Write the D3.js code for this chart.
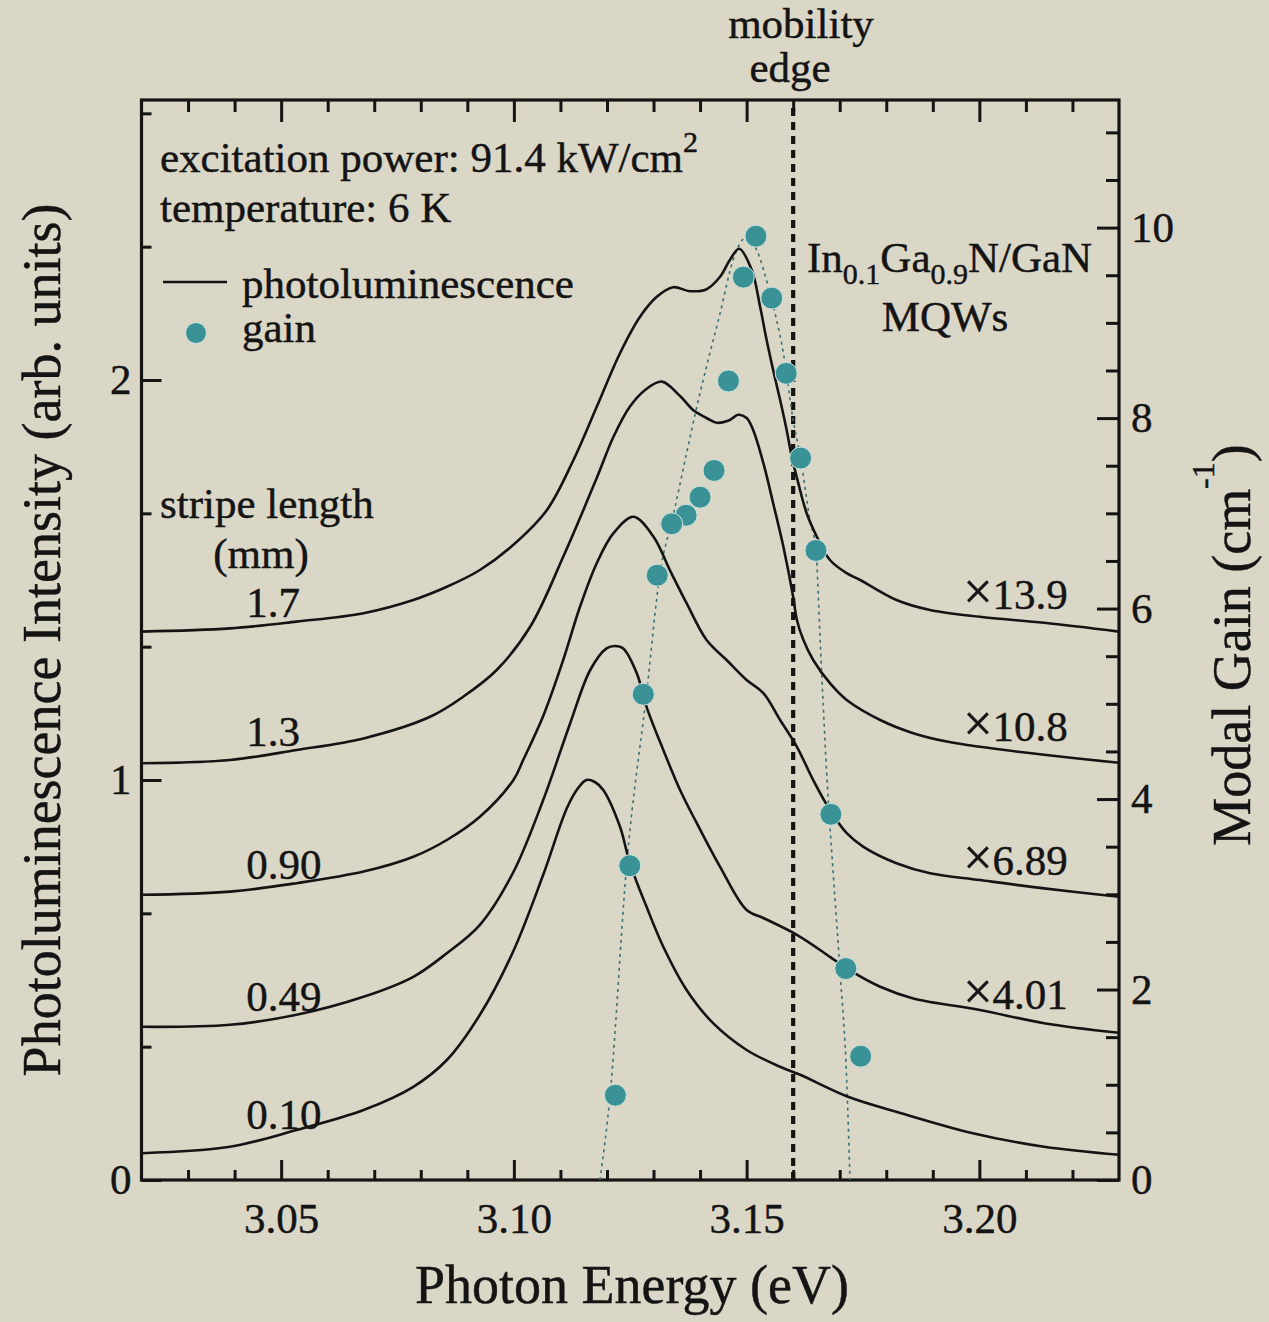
<!DOCTYPE html>
<html>
<head>
<meta charset="utf-8">
<script src="https://cdn.jsdelivr.net/npm/d3@7"></script>
<style>
  html, body { margin: 0; padding: 0; background: #dbd7c7; }
  svg { display: block; }
  text { font-family: "Liberation Serif", "Times New Roman", serif; fill: #141414; stroke: #141414; stroke-width: 0.45px; }
</style>
</head>
<body>
<svg id="chart" width="1269" height="1322"></svg>
<script>
// ---- Stacked photoluminescence spectra (left axis units, vertical offset included) ----
const energy17 = [3.0200,3.0390,3.0533,3.0677,3.0784,3.0856,3.0927,3.0999,3.1071,3.1128,3.1178,3.1228,3.1271,3.1307,3.1342,3.1378,3.1414,3.1443,3.1464,3.1484,3.1511,3.1529,3.1543,3.1557,3.1572,3.1586,3.1597,3.1611,3.1629,3.1651,3.1679,3.1715,3.1744,3.1822,3.1894,3.2001,3.2139,3.2300];
const pl17     = [1.371,1.379,1.396,1.417,1.450,1.483,1.525,1.588,1.675,1.800,1.933,2.067,2.158,2.208,2.232,2.222,2.227,2.258,2.300,2.328,2.275,2.183,2.100,2.025,1.950,1.875,1.808,1.742,1.667,1.608,1.550,1.517,1.500,1.450,1.425,1.408,1.393,1.371];

const energy13 = [3.0200,3.0390,3.0533,3.0677,3.0820,3.0891,3.0963,3.1035,3.1106,3.1178,3.1214,3.1249,3.1282,3.1318,3.1357,3.1385,3.1414,3.1436,3.1464,3.1482,3.1500,3.1514,3.1536,3.1557,3.1579,3.1600,3.1608,3.1622,3.1643,3.1679,3.1715,3.1787,3.1858,3.1930,3.2001,3.2139,3.2300];
const pl13     = [1.042,1.050,1.075,1.104,1.158,1.208,1.275,1.383,1.558,1.755,1.858,1.933,1.975,1.996,1.960,1.925,1.905,1.893,1.900,1.913,1.905,1.875,1.792,1.692,1.583,1.458,1.400,1.350,1.300,1.242,1.200,1.150,1.117,1.096,1.083,1.063,1.043];

const energy090 = [3.0200,3.0390,3.0533,3.0677,3.0784,3.0856,3.0927,3.0999,3.1020,3.1063,3.1106,3.1142,3.1178,3.1214,3.1257,3.1300,3.1335,3.1371,3.1414,3.1457,3.1500,3.1536,3.1572,3.1608,3.1643,3.1679,3.1715,3.1751,3.1822,3.1894,3.2001,3.2139,3.2300];
const pl090     = [0.713,0.721,0.742,0.771,0.808,0.850,0.908,1.000,1.050,1.160,1.300,1.433,1.542,1.617,1.658,1.608,1.525,1.442,1.350,1.300,1.250,1.217,1.150,1.083,1.000,0.925,0.867,0.833,0.792,0.767,0.750,0.729,0.708];

const energy049 = [3.0200,3.0390,3.0533,3.0677,3.0784,3.0856,3.0927,3.0999,3.1063,3.1121,3.1164,3.1199,3.1217,3.1235,3.1264,3.1285,3.1321,3.1357,3.1393,3.1443,3.1500,3.1536,3.1608,3.1679,3.1715,3.1787,3.1858,3.2001,3.2139,3.2300];
const pl049     = [0.383,0.388,0.413,0.458,0.508,0.567,0.638,0.770,0.950,1.142,1.275,1.329,1.335,1.329,1.267,1.183,1.075,0.975,0.892,0.783,0.675,0.655,0.613,0.558,0.529,0.483,0.454,0.425,0.392,0.368];

const energy010 = [3.0200,3.0390,3.0533,3.0677,3.0784,3.0856,3.0927,3.0998,3.1063,3.1114,3.1138,3.1156,3.1174,3.1192,3.1228,3.1249,3.1285,3.1321,3.1371,3.1428,3.1500,3.1572,3.1615,3.1718,3.1832,3.1986,3.2139,3.2300];
const pl010     = [0.067,0.083,0.125,0.175,0.233,0.300,0.413,0.570,0.763,0.930,0.980,1.000,0.995,0.975,0.883,0.793,0.683,0.583,0.475,0.392,0.325,0.283,0.263,0.208,0.167,0.117,0.083,0.063];

const stripeLengths = ["1.7", "1.3", "0.90", "0.49", "0.10"];
const scaleFactors  = ["13.9", "10.8", "6.89", "4.01"];

// ---- Modal gain (right axis, cm^-1) ----
const gainEnergy = [3.1520,3.1493,3.1554,3.1461,3.1585,3.1430,3.1616,3.1400,3.1370,3.1339,3.1649,3.1308,3.1278,3.1681,3.1249,3.1713,3.1745,3.1218];
const gainValue  = [9.91,9.48,9.26,8.39,8.47,7.45,7.58,7.17,6.98,6.89,6.61,6.35,5.10,3.84,3.30,2.22,1.30,0.89];

// guide-for-the-eye through the gain points
const guideEnergy = [3.1185,3.1207,3.1242,3.1285,3.1314,3.1342,3.1371,3.1393,3.1421,3.1443,3.1471,3.1500,3.1522,3.1550,3.1579,3.1600,3.1616,3.1636,3.1649,3.1658,3.1672,3.1686,3.1701,3.1715,3.1722];
const guideGain   = [0,0.91,3.29,5.11,6.37,6.97,7.63,8.12,8.68,9.10,9.66,9.90,9.76,9.31,8.68,7.98,7.58,6.93,6.61,5.67,4.27,3.22,2.17,1.05,0];

const mobilityEdge = 3.160;

// ---- Axis ticks ----
const energyTicks = [3.05, 3.10, 3.15, 3.20];
const energyMinor = d3.range(303, 323).map(d => d / 100).filter(d => !energyTicks.some(t => Math.abs(t - d) < 1e-6));
const plTicks = [0, 1, 2];
const plMinor = [1, 2, 4, 5, 7, 8].map(d => d / 3);
const gainTicks = [0, 2, 4, 6, 8, 10];
const gainMinor = d3.range(1, 23).map(d => d / 2).filter(d => d % 2 !== 0);

// ---- Scales ----
const pLeft = 141.5, pRight = 1119, pTop = 100, pBottom = 1180;
const x = d3.scaleLinear().domain([3.02, 3.23]).range([pLeft, pRight]);
const yPL = d3.scaleLinear().domain([0, 2.7]).range([pBottom, pTop]);
const yGain = d3.scaleLinear().domain([0, 11.34]).range([pBottom, pTop]);

const svg = d3.select("#chart");
const ink = "#141414";
const teal = "#3a9296";

svg.append("rect").attr("width", 1269).attr("height", 1322).attr("fill", "#dbd7c7");

const styleAxis = (g, size) => {
  g.select(".domain").remove();
  g.selectAll(".tick line").attr("stroke", ink).attr("stroke-width", 3);
  g.selectAll(".tick text")
    .attr("fill", ink)
    .style("font-family", "'Liberation Serif','Times New Roman',serif")
    .style("font-size", size + "px");
  g.attr("font-family", null).attr("font-size", null);
};

// bottom axis
svg.append("g").attr("transform", `translate(0,${pBottom})`)
  .call(d3.axisBottom(x).tickValues(energyTicks).tickFormat(d3.format(".2f")).tickSize(-20).tickPadding(22))
  .call(g => styleAxis(g, 43));
svg.append("g").attr("transform", `translate(0,${pBottom})`)
  .call(d3.axisBottom(x).tickValues(energyMinor).tickFormat("").tickSize(-10))
  .call(g => styleAxis(g, 43));
// top axis
svg.append("g").attr("transform", `translate(0,${pTop})`)
  .call(d3.axisTop(x).tickValues(energyTicks).tickFormat("").tickSize(-22))
  .call(g => styleAxis(g, 43));
svg.append("g").attr("transform", `translate(0,${pTop})`)
  .call(d3.axisTop(x).tickValues(energyMinor).tickFormat("").tickSize(-12))
  .call(g => styleAxis(g, 43));
// left axis
svg.append("g").attr("transform", `translate(${pLeft},0)`)
  .call(d3.axisLeft(yPL).tickValues(plTicks).tickFormat(d3.format("d")).tickSize(-20).tickPadding(10))
  .call(g => styleAxis(g, 43));
svg.append("g").attr("transform", `translate(${pLeft},0)`)
  .call(d3.axisLeft(yPL).tickValues(plMinor).tickFormat("").tickSize(-10))
  .call(g => styleAxis(g, 43));
// right axis
svg.append("g").attr("transform", `translate(${pRight},0)`)
  .call(d3.axisRight(yGain).tickValues(gainTicks).tickFormat(d3.format("d")).tickSize(-22).tickPadding(12))
  .call(g => styleAxis(g, 43));
svg.append("g").attr("transform", `translate(${pRight},0)`)
  .call(d3.axisRight(yGain).tickValues(gainMinor).tickFormat("").tickSize(-13))
  .call(g => styleAxis(g, 43));

// frame
svg.append("rect")
  .attr("x", pLeft).attr("y", pTop)
  .attr("width", pRight - pLeft).attr("height", pBottom - pTop)
  .attr("fill", "none").attr("stroke", ink).attr("stroke-width", 3.2);

const plot = svg.append("g");
svg.append("clipPath").attr("id", "plotClip")
  .append("rect").attr("x", pLeft).attr("y", pTop).attr("width", pRight - pLeft).attr("height", pBottom - pTop);

// mobility edge
plot.append("line")
  .attr("x1", x(mobilityEdge)).attr("x2", x(mobilityEdge))
  .attr("y1", pTop + 8).attr("y2", pBottom)
  .attr("stroke", ink).attr("stroke-width", 4.2).attr("stroke-dasharray", "8,6");

// guide through gain points
const guideLine = d3.line()
  .x(d => x(d[0])).y(d => yGain(d[1]))
  .curve(d3.curveMonotoneX);
plot.append("path")
  .attr("clip-path", "url(#plotClip)")
  .attr("d", guideLine(d3.zip(guideEnergy, guideGain)))
  .attr("fill", "none").attr("stroke", "#3c6f72").attr("stroke-width", 1.6)
  .attr("stroke-dasharray", "3,4");

// PL spectra
const spectra = [
  { e: energy17, v: pl17 },
  { e: energy13, v: pl13 },
  { e: energy090, v: pl090 },
  { e: energy049, v: pl049 },
  { e: energy010, v: pl010 }
];
const plLine = d3.line()
  .x(d => x(d[0])).y(d => yPL(d[1]))
  .curve(d3.curveCatmullRom.alpha(0.5));
plot.selectAll("path.pl").data(spectra).join("path")
  .attr("class", "pl")
  .attr("clip-path", "url(#plotClip)")
  .attr("d", s => plLine(d3.zip(s.e, s.v)))
  .attr("fill", "none").attr("stroke", ink).attr("stroke-width", 2.6)
  .attr("stroke-linejoin", "round");

// value of a spectrum at a given energy (linear between samples)
function valueAt(es, vs, e) {
  const i = Math.max(1, Math.min(es.length - 1, d3.bisectLeft(es, e)));
  const t = (e - es[i - 1]) / (es[i] - es[i - 1]);
  return vs[i - 1] + t * (vs[i] - vs[i - 1]);
}

// stripe length labels on the left tails
const stripeLabelE = 3.0425;
plot.selectAll("text.stripe").data(spectra).join("text")
  .attr("class", "stripe")
  .attr("x", x(stripeLabelE))
  .attr("y", s => yPL(valueAt(s.e, s.v, stripeLabelE + 0.006)) - 7)
  .style("font-size", "43px")
  .text((s, i) => stripeLengths[i]);

// scale factor labels on the right tails
const factorLabelE = 3.2190;
const factors = plot.selectAll("text.factor").data(spectra.slice(0, 4)).join("text")
  .attr("class", "factor")
  .attr("x", x(factorLabelE))
  .attr("y", s => yPL(valueAt(s.e, s.v, 3.2130)) - 13)
  .attr("text-anchor", "end")
  .style("font-size", "43px");
factors.append("tspan").style("font-size", "52px").text("\u00d7");
factors.append("tspan").text((s, i) => scaleFactors[i]);

// gain points
plot.selectAll("circle.gain").data(d3.zip(gainEnergy, gainValue)).join("circle")
  .attr("class", "gain")
  .attr("cx", d => x(d[0])).attr("cy", d => yGain(d[1]))
  .attr("r", 11)
  .attr("fill", teal).attr("stroke", "#cfe3dc").attr("stroke-width", 1);

// ---- annotations ----
const ann = svg.append("g").style("font-size", "43px");
const exc = ann.append("text").attr("x", 160).attr("y", 172);
exc.append("tspan").text("excitation power: 91.4 kW/cm");
exc.append("tspan").attr("dy", -20).style("font-size", "30px").text("2");
ann.append("text").attr("x", 160).attr("y", 222).text("temperature: 6 K");

// legend
ann.append("line").attr("x1", 163).attr("x2", 227).attr("y1", 282).attr("y2", 282)
  .attr("stroke", ink).attr("stroke-width", 2.6);
ann.append("text").attr("x", 242).attr("y", 298).text("photoluminescence");
ann.append("circle").attr("cx", 196).attr("cy", 333).attr("r", 10.5)
  .attr("fill", teal).attr("stroke", "#cfe3dc").attr("stroke-width", 1);
ann.append("text").attr("x", 242).attr("y", 342).text("gain");

ann.append("text").attr("x", 160).attr("y", 518).text("stripe length");
ann.append("text").attr("x", 261).attr("y", 568).attr("text-anchor", "middle").text("(mm)");

ann.append("text").attr("x", 801).attr("y", 38).attr("text-anchor", "middle").text("mobility");
ann.append("text").attr("x", 790).attr("y", 82).attr("text-anchor", "middle").text("edge");

const mat = ann.append("text").attr("x", 807).attr("y", 272);
mat.append("tspan").text("In");
mat.append("tspan").attr("dy", 12).style("font-size", "30px").text("0.1");
mat.append("tspan").attr("dy", -12).text("Ga");
mat.append("tspan").attr("dy", 12).style("font-size", "30px").text("0.9");
mat.append("tspan").attr("dy", -12).text("N/GaN");
ann.append("text").attr("x", 945).attr("y", 331).attr("text-anchor", "middle").text("MQWs");

// axis titles
svg.append("text")
  .attr("x", 632).attr("y", 1303).attr("text-anchor", "middle")
  .style("font-size", "54px").text("Photon Energy (eV)");
svg.append("text")
  .attr("transform", "translate(60,640) rotate(-90)").attr("text-anchor", "middle")
  .style("font-size", "54px").text("Photoluminescence Intensity (arb. units)");
const rt = svg.append("text")
  .attr("transform", "translate(1250,645) rotate(-90)").attr("text-anchor", "middle")
  .style("font-size", "54px");
rt.append("tspan").text("Modal Gain (cm");
rt.append("tspan").attr("dy", -36).style("font-size", "32px").text("-1");
rt.append("tspan").attr("dy", 36).text(")");
</script>
</body>
</html>
